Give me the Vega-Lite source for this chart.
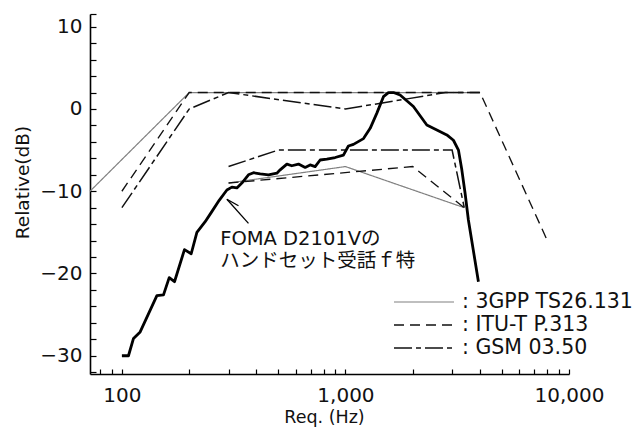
{
  "$schema": "https://vega.github.io/schema/vega-lite/v6.json",
  "width": 479,
  "height": 360,
  "autosize": "none",
  "padding": {"left": 90, "top": 14, "right": 74, "bottom": 56},
  "background": "white",
  "config": {
    "view": {"stroke": null},
    "font": "DejaVu Sans, Noto Sans CJK JP",
    "axis": {
      "grid": false,
      "domainColor": "#000",
      "domainWidth": 1.6,
      "tickColor": "#000",
      "tickWidth": 1.2,
      "labelColor": "#111",
      "labelFontSize": 20,
      "labelFlush": false,
      "labelOverlap": false,
      "titleColor": "#111",
      "titleFontSize": 18,
      "titleFontWeight": "normal"
    }
  },
  "resolve": {"axis": {"y": "independent"}},
  "datasets": {
    "masks": [
      {"series": "3GPP TS26.131", "part": "3gpp-upper", "freq": 72, "db": -10},
      {"series": "3GPP TS26.131", "part": "3gpp-upper", "freq": 200, "db": 2},
      {"series": "3GPP TS26.131", "part": "3gpp-upper", "freq": 4000, "db": 2},
      {"series": "3GPP TS26.131", "part": "3gpp-lower", "freq": 300, "db": -9},
      {"series": "3GPP TS26.131", "part": "3gpp-lower", "freq": 1000, "db": -7},
      {"series": "3GPP TS26.131", "part": "3gpp-lower", "freq": 3400, "db": -12},
      {"series": "ITU-T P.313", "part": "itu-upper", "freq": 100, "db": -10},
      {"series": "ITU-T P.313", "part": "itu-upper", "freq": 200, "db": 2},
      {"series": "ITU-T P.313", "part": "itu-upper", "freq": 4000, "db": 2},
      {"series": "ITU-T P.313", "part": "itu-upper", "freq": 8000, "db": -16},
      {"series": "ITU-T P.313", "part": "itu-lower", "freq": 300, "db": -9},
      {"series": "ITU-T P.313", "part": "itu-lower", "freq": 2000, "db": -7},
      {"series": "ITU-T P.313", "part": "itu-lower", "freq": 3400, "db": -12},
      {"series": "GSM 03.50", "part": "gsm-upper", "freq": 100, "db": -12},
      {"series": "GSM 03.50", "part": "gsm-upper", "freq": 200, "db": 0},
      {"series": "GSM 03.50", "part": "gsm-upper", "freq": 300, "db": 2},
      {"series": "GSM 03.50", "part": "gsm-upper", "freq": 1000, "db": 0},
      {"series": "GSM 03.50", "part": "gsm-upper", "freq": 2800, "db": 2},
      {"series": "GSM 03.50", "part": "gsm-upper", "freq": 4000, "db": 2},
      {"series": "GSM 03.50", "part": "gsm-lower", "freq": 300, "db": -7},
      {"series": "GSM 03.50", "part": "gsm-lower", "freq": 500, "db": -5},
      {"series": "GSM 03.50", "part": "gsm-lower", "freq": 3000, "db": -5},
      {"series": "GSM 03.50", "part": "gsm-lower", "freq": 3400, "db": -12}
    ],
    "handset": [
      {"freq": 100, "db": -30.0},
      {"freq": 107, "db": -30.0},
      {"freq": 112.7, "db": -27.9},
      {"freq": 120.7, "db": -27.1},
      {"freq": 143.4, "db": -22.7},
      {"freq": 153.5, "db": -22.6},
      {"freq": 162.8, "db": -20.5},
      {"freq": 171.9, "db": -21.0},
      {"freq": 190.5, "db": -17.1},
      {"freq": 204.2, "db": -17.6},
      {"freq": 216.5, "db": -15.0},
      {"freq": 235.8, "db": -13.7},
      {"freq": 250.8, "db": -12.6},
      {"freq": 272.4, "db": -11.1},
      {"freq": 294.9, "db": -9.85},
      {"freq": 310.5, "db": -9.5},
      {"freq": 326.8, "db": -9.6},
      {"freq": 344.1, "db": -9.0},
      {"freq": 368.3, "db": -8.0},
      {"freq": 387.9, "db": -7.75},
      {"freq": 415.6, "db": -7.9},
      {"freq": 452.5, "db": -8.0},
      {"freq": 493.4, "db": -7.8},
      {"freq": 510.5, "db": -7.4},
      {"freq": 547, "db": -6.7},
      {"freq": 575.4, "db": -6.9},
      {"freq": 616.6, "db": -6.7},
      {"freq": 660.4, "db": -7.1},
      {"freq": 695, "db": -6.8},
      {"freq": 732, "db": -7.0},
      {"freq": 770.6, "db": -6.2},
      {"freq": 825.7, "db": -6.1},
      {"freq": 899.4, "db": -5.9},
      {"freq": 979.5, "db": -5.6},
      {"freq": 1031, "db": -4.5},
      {"freq": 1086, "db": -4.3},
      {"freq": 1204, "db": -3.6},
      {"freq": 1290, "db": -2.35},
      {"freq": 1382, "db": -0.5},
      {"freq": 1479, "db": 1.5},
      {"freq": 1557, "db": 2.0},
      {"freq": 1640, "db": 2.0},
      {"freq": 1756, "db": 1.7},
      {"freq": 2014, "db": 0.3},
      {"freq": 2312, "db": -1.95},
      {"freq": 2564, "db": -2.55},
      {"freq": 2841, "db": -3.15},
      {"freq": 3041, "db": -3.8},
      {"freq": 3203, "db": -5.0},
      {"freq": 3316, "db": -7.4},
      {"freq": 3429, "db": -10.25},
      {"freq": 3548, "db": -13.5},
      {"freq": 3934, "db": -21.0}
    ],
    "pointer": [
      {"freq": 294.9, "db": -10.98, "freq2": 368.3, "db2": -13.9},
      {"freq": 294.9, "db": -10.98, "freq2": 332.3, "db2": -11.76}
    ],
    "notes": [
      {"freq": 275.2, "db": -15.8, "text": "FOMA D2101Vの"},
      {"freq": 275.2, "db": -18.5, "text": "ハンドセット受話ｆ特"}
    ]
  },
  "layer": [
    {
      "data": {"name": "masks"},
      "mark": {"type": "line", "strokeJoin": "miter"},
      "encoding": {
        "x": {
          "field": "freq",
          "type": "quantitative",
          "title": "Req. (Hz)",
          "scale": {"type": "log", "domain": [72, 10000], "nice": false},
          "axis": {
            "values": [80, 90, 100, 200, 300, 400, 500, 600, 700, 800, 900, 1000, 2000, 3000, 4000, 5000, 6000, 7000, 8000, 9000, 10000],
            "labelExpr": "datum.value == 100 || datum.value == 1000 || datum.value == 10000 ? format(datum.value, ',') : ''",
            "labelOverlap": false,
            "tickSize": -5,
            "labelPadding": 16,
            "titleFontSize": 17.5,
            "titleX": 234,
            "titleY": 43,
            "titleBaseline": "middle"
          }
        },
        "y": {
          "field": "db",
          "type": "quantitative",
          "title": "Relative(dB)",
          "scale": {"domain": [-32.22, 11.55], "nice": false, "zero": false},
          "axis": {
            "orient": "left",
            "values": [-30, -20, -10, 0, 10],
            "format": "d",
            "labelOverlap": false,
            "tickSize": -6,
            "labelPadding": 14,
            "titleFontSize": 18.5,
            "titleX": -68,
            "titleY": 168,
            "titleBaseline": "middle"
          }
        },
        "detail": {"field": "part"},
        "color": {
          "field": "series",
          "type": "nominal",
          "scale": {"domain": ["3GPP TS26.131", "ITU-T P.313", "GSM 03.50"], "range": ["#808080", "#111111", "#111111"]},
          "legend": {
            "orient": "none",
            "legendX": 323,
            "legendY": 277,
            "title": null,
            "padding": 0,
            "symbolType": "M-3,0H3",
            "symbolSize": 400,
            "labelFontSize": 20.5,
            "labelColor": "#111",
            "labelLimit": 300,
            "labelOffset": 27,
            "rowPadding": 1,
            "labelExpr": "': ' + datum.label"
          }
        },
        "strokeDash": {
          "field": "series",
          "type": "nominal",
          "scale": {"domain": ["3GPP TS26.131", "ITU-T P.313", "GSM 03.50"], "range": [[1, 0], [10, 6], [18, 4, 5, 4]]}
        },
        "strokeWidth": {
          "field": "series",
          "type": "nominal",
          "scale": {"domain": ["3GPP TS26.131", "ITU-T P.313", "GSM 03.50"], "range": [1.2, 1.5, 1.5]}
        }
      }
    },
    {
      "data": {"name": "handset"},
      "mark": {"type": "line", "color": "#000", "strokeWidth": 2.8, "strokeJoin": "round"},
      "encoding": {
        "x": {"field": "freq", "type": "quantitative"},
        "y": {
          "field": "db",
          "type": "quantitative",
          "axis": {
            "orient": "left",
            "values": [-32, -28, -26, -24, -22, -18, -16, -14, -12, -8, -6, -4, -2, 2, 4, 6, 8, 11.55],
            "labels": false,
            "domain": false,
            "title": null,
            "tickSize": -6
          }
        }
      }
    },
    {
      "data": {"name": "pointer"},
      "mark": {"type": "rule", "color": "#000", "strokeWidth": 1.3},
      "encoding": {
        "x": {"field": "freq", "type": "quantitative"},
        "y": {"field": "db", "type": "quantitative", "axis": null},
        "x2": {"field": "freq2"},
        "y2": {"field": "db2"}
      }
    },
    {
      "data": {"name": "notes"},
      "mark": {"type": "text", "align": "left", "baseline": "middle", "fontSize": 19.5, "color": "#111"},
      "encoding": {
        "x": {"field": "freq", "type": "quantitative"},
        "y": {"field": "db", "type": "quantitative", "axis": null},
        "text": {"field": "text"}
      }
    }
  ]
}
